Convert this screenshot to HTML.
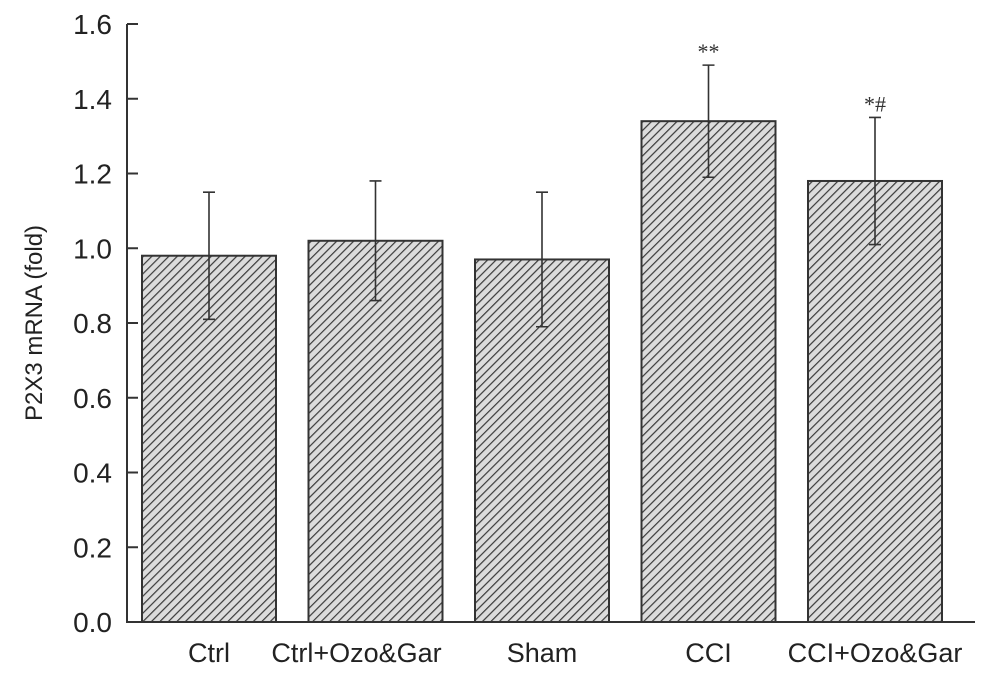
<!DOCTYPE html>
<html><head><meta charset="utf-8"><style>body{margin:0;background:#fff}svg{display:block}</style></head>
<body>
<svg id="chart" width="994" height="674" xmlns="http://www.w3.org/2000/svg" font-family="Liberation Sans, sans-serif">
<defs>
<pattern id="hatch" patternUnits="userSpaceOnUse" width="6" height="6" patternTransform="rotate(45)">
<rect width="6" height="6" fill="#dcdcdc"/>
<line x1="0" y1="0" x2="0" y2="6" stroke="#3a3a3a" stroke-width="2.4"/>
</pattern>
</defs>
<g id="plot"></g>
</svg>
<script>
const categories = ["Ctrl","Ctrl+Ozo&Gar","Sham","CCI","CCI+Ozo&Gar"];
const values = [0.98,1.02,0.97,1.34,1.18];
const errors = [0.17,0.16,0.18,0.15,0.17];
const marks = ["","","","**","*#"];
const yTicks = [0,0.2,0.4,0.6,0.8,1.0,1.2,1.4,1.6];

const ns="http://www.w3.org/2000/svg";
const g=document.getElementById('plot');
const x0=127, y0=622, yTop=24, yMax=1.6;
const bandStart=142, bandStep=166.5, barW=134;
const labelShift=[0,-19,0,0,0];
const yS=v=>y0-(v/yMax)*(y0-yTop);
const xS=i=>bandStart+i*bandStep;
function mk(t,a){const e=document.createElementNS(ns,t);for(const k in a)e.setAttribute(k,a[k]);g.appendChild(e);return e;}

values.forEach((v,i)=>{
  const b=mk('rect',{x:xS(i),y:yS(v),width:barW,height:y0-yS(v),fill:'url(#hatch)',stroke:'#333','stroke-width':2});
  
  
  const cx=xS(i)+barW/2;
  const e=mk('path',{d:`M${cx},${yS(v+errors[i])}V${yS(v-errors[i])}M${cx-6},${yS(v+errors[i])}H${cx+6}M${cx-6},${yS(v-errors[i])}H${cx+6}`,stroke:'#333','stroke-width':1.6,fill:'none'});
  
  
  if(marks[i]){const m=mk('text',{x:cx,y:yS(v+errors[i])-6,'text-anchor':'middle','font-size':22,fill:'#333','font-family':'Liberation Serif, serif'});m.textContent=marks[i];
  
  }
  const l=mk('text',{x:cx+labelShift[i],y:662,'text-anchor':'middle','font-size':27,fill:'#222'});l.textContent=categories[i];
  
  
});
const ax=mk('path',{d:`M${x0},${yTop}V${y0}H975`,stroke:'#333','stroke-width':2,fill:'none'});


yTicks.forEach(t=>{
  const tk=mk('line',{x1:x0,x2:x0+11,y1:yS(t),y2:yS(t),stroke:'#333','stroke-width':2});
  
  
  const tl=mk('text',{x:112,y:yS(t)+10,'text-anchor':'end','font-size':28,fill:'#222'});tl.textContent=t.toFixed(1);
  
  
});
const yt=mk('text',{x:0,y:0,transform:'translate(42,323) rotate(-90)','text-anchor':'middle','font-size':24,fill:'#222'});
yt.textContent='P2X3 mRNA (fold)';


</script>
</body></html>
